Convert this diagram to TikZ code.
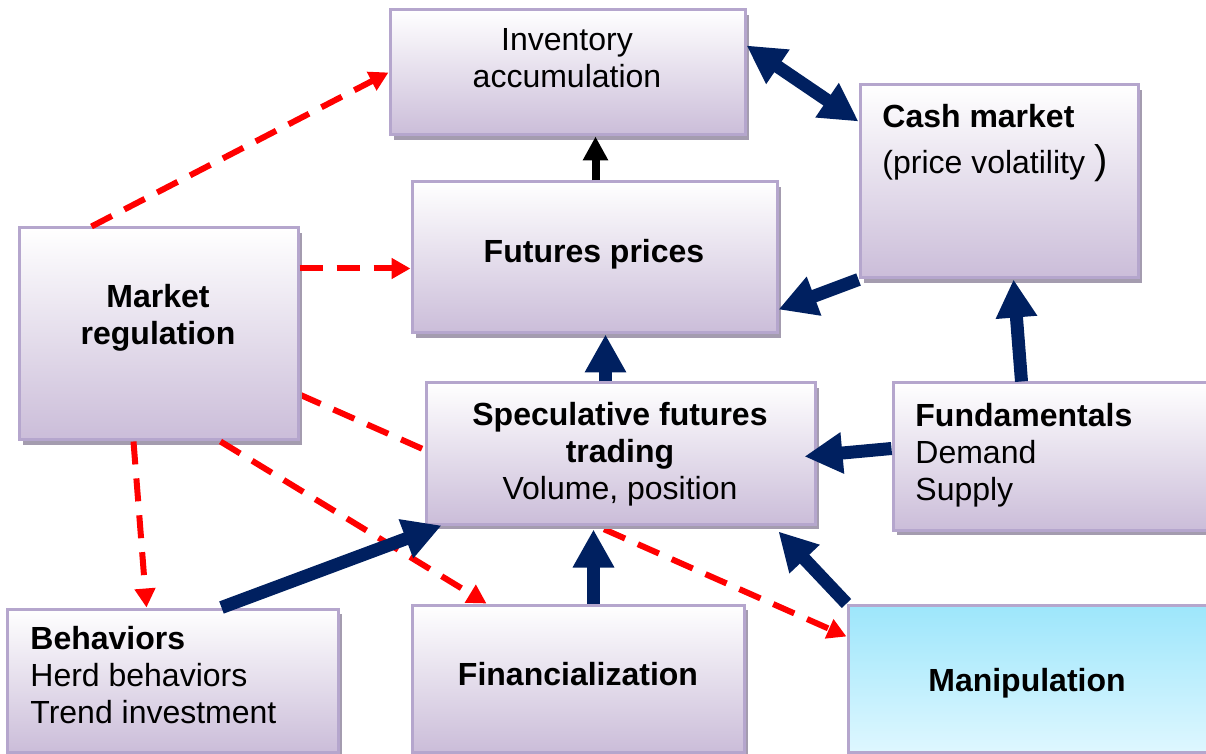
\documentclass[tikz,border=0pt]{standalone}
\usepackage{fontspec}
\setmainfont{Liberation Sans}
\usetikzlibrary{arrows.meta,calc,shadows,backgrounds}
\definecolor{boxline}{HTML}{B5A6CD}
\definecolor{boxlow}{HTML}{CBBDD9}
\definecolor{boxshadow}{HTML}{A49CAF}
\definecolor{cyantop}{HTML}{9DE6FB}
\definecolor{cyanlow}{HTML}{DEF7FF}
\definecolor{navy}{HTML}{002060}
\tikzset{
  box/.style={draw=boxline, line width=1.5pt, rectangle, top color=white,
    bottom color=boxlow, inner sep=0pt,
    drop shadow={shadow xshift=2pt,shadow yshift=-2.5pt,opacity=1,fill=boxshadow}},
  txt/.style={inner sep=0pt, anchor=north, align=center, font=\fontsize{16}{18.5}\selectfont},
  btxt/.style={txt, font=\fontsize{16}{18.5}\selectfont\bfseries},
  ltxt/.style={txt, anchor=north west, align=left},
  navyarrow/.style={navy, line width=6.5pt, -{Triangle[width=19.5pt,length=19pt]}},
  navydouble/.style={navy, line width=6.5pt, {Triangle[width=19.5pt,length=19pt]}-{Triangle[width=19.5pt,length=19pt]}},
  blackarrow/.style={black, line width=4pt, -{Triangle[width=12pt,length=12pt]}},
  reddash/.style={red, line width=3pt, dash pattern=on 11.5pt off 7pt, -{Triangle[width=10pt,length=9.5pt]}}
}
\begin{document}
\begin{tikzpicture}[x=0.5pt,y=-0.5pt]
\useasboundingbox (0,0) rectangle (1206,754);
% boxes
\node[box, minimum width=177.5pt, minimum height=62.5pt] (inv) at (567.5,72.5) {};
\node[box, minimum width=139pt, minimum height=96.5pt] (cash) at (999,181.5) {};
\node[box, minimum width=139.5pt, minimum height=106pt] (reg) at (158.5,334) {};
\node[box, minimum width=182.5pt, minimum height=75.5pt] (fut) at (594.5,257.5) {};
\node[box, minimum width=194.5pt, minimum height=70.5pt] (spec) at (620.5,453.5) {};
\node[box, minimum width=158pt, minimum height=73.5pt] (fund) at (1051,456.5) {};
\node[box, minimum width=165.5pt, minimum height=71.5pt] (beh) at (172.5,680.5) {};
\node[box, minimum width=166pt, minimum height=73.5pt] (fin) at (578,678.5) {};
\node[box, minimum width=181pt, minimum height=73.5pt, top color=cyantop, bottom color=cyanlow] (man) at (1029,678.5) {};
% texts
\node[txt] (inv-t) at (567,28) {Inventory\\accumulation};
\node[ltxt] (cash-t) at (882,104) {\textbf{Cash market}\\[4.5pt](price volatility {\fontsize{20}{20}\selectfont )}};
\node[btxt] (reg-t) at (158,284) {Market\\regulation};
\node[btxt] (fut-t) at (594,239) {Futures prices};
\node[txt] (spec-t) at (620,402) {\textbf{Speculative futures}\\\textbf{trading}\\Volume, position};
\node[ltxt] (fund-t) at (915,403) {\textbf{Fundamentals}\\Demand\\Supply};
\node[ltxt] (beh-t) at (30,626) {\textbf{Behaviors}\\Herd behaviors\\Trend investment};
\node[btxt] (fin-t) at (578,662) {Financialization};
\node[btxt] (man-t) at (1027,668) {Manipulation};
% regulation links
\begin{scope}[on background layer]
\draw[reddash] ($(reg.south east)+(0,-47)$) -- ($(man.north west)+(0,33)$);
\end{scope}
\draw[reddash] ($(reg.north west)+(74,0)$) -- (inv.west);
\draw[reddash] ($(reg.north east)+(0,42)$) -- ($(fut.north west)+(0,88)$);
\draw[reddash] ($(reg.south west)+(116,0)$) -- ($(beh.north west)+(141,0)$);
\draw[reddash] ($(reg.south west)+(203,0)$) -- ($(fin.north west)+(76,0)$);
% market links
\draw[blackarrow] ($(fut.north west)+(185,0)$) -- ($(inv.south west)+(207,0)$);
\draw[navydouble] ($(inv.north east)+(0,37)$) -- ($(cash.north west)+(0,38)$);
\draw[navyarrow] (cash.south west) -- ($(fut.south east)+(0,-25)$);
\draw[navyarrow] ($(spec.north west)+(181,0)$) -- ($(fut.south west)+(195,0)$);
\draw[navyarrow] ($(fund.north west)+(130,0)$) -- ($(cash.south west)+(155,0)$);
\draw[navyarrow] ($(fund.north west)+(0,67)$) -- ($(spec.north east)+(-12,75)$);
\draw[navyarrow] ($(beh.north west)+(216,0)$) -- ($(spec.south west)+(17,0)$);
\draw[navyarrow] ($(fin.north west)+(183,0)$) -- ($(spec.south west)+(169,4)$);
\draw[navyarrow] (man.north west) -- ($(spec.south east)+(-38,6)$);
\end{tikzpicture}
\end{document}
